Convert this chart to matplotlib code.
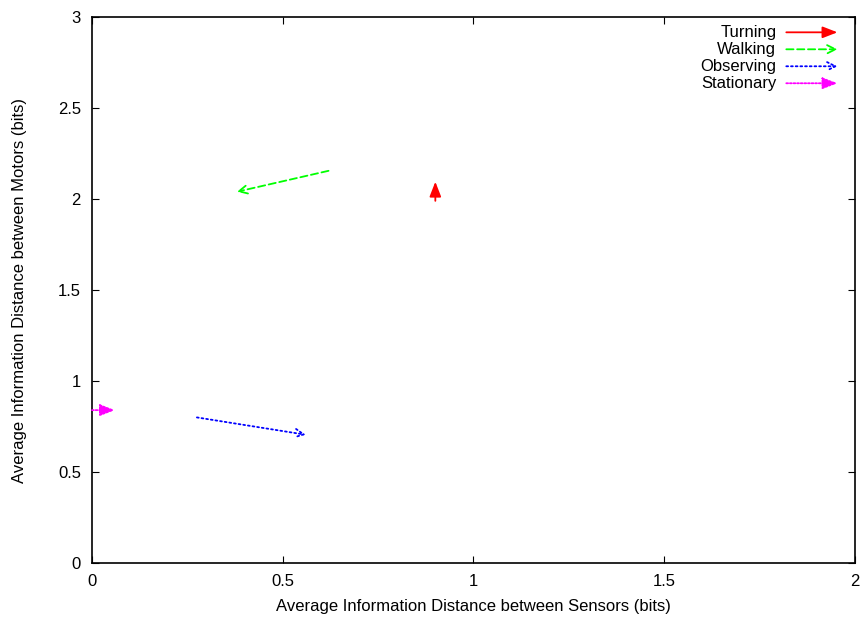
import matplotlib
matplotlib.use("Agg")
import matplotlib.pyplot as plt

plt.rcParams['font.family'] = ['Liberation Sans', 'DejaVu Sans']

# arrow data: start (x0, y0) -> end (x1, y1)
names = ["Turning", "Walking", "Observing", "Stationary"]
x0 = [0.90, 0.62, 0.275, 0.0]
y0 = [1.99, 2.155, 0.80, 0.84]
x1 = [0.90, 0.38, 0.56, 0.06]
y1 = [2.095, 2.04, 0.705, 0.84]
colors = ["#ff0000", "#00ff00", "#0000ff", "#ff00ff"]
styles = ["-", (0, (4, 2)), (0, (1, 1.6)), (0, (1, 1))]
heads = ["-|>,head_length=0.9,head_width=0.35",
         "->,head_length=0.6,head_width=0.3",
         "->,head_length=0.6,head_width=0.3",
         "-|>,head_length=0.9,head_width=0.35"]

fig = plt.figure(figsize=(8.63, 6.17), dpi=100)
ax = fig.add_axes([0.1066, 0.0875, 0.8841, 0.8849])

for i in range(len(names)):
    ax.annotate("", xy=(x1[i], y1[i]), xytext=(x0[i], y0[i]),
                arrowprops=dict(arrowstyle=heads[i], color=colors[i], lw=1.3,
                                linestyle=styles[i], shrinkA=0, shrinkB=0),
                annotation_clip=False)
    # legend entry
    ly = 0.972 - i * 0.0311
    ax.text(0.897, ly, names[i], transform=ax.transAxes, ha="right", va="center", fontsize=12)
    ax.annotate("", xy=(0.977, ly), xytext=(0.910, ly), xycoords="axes fraction",
                textcoords="axes fraction",
                arrowprops=dict(arrowstyle=heads[i], color=colors[i], lw=1.3,
                                linestyle=styles[i], shrinkA=0, shrinkB=0))

ax.set_xlim(0, 2)
ax.set_ylim(0, 3)
ax.set_xticks([0, 0.5, 1, 1.5, 2])
ax.set_xticklabels(["0", "0.5", "1", "1.5", "2"])
ax.set_yticks([0, 0.5, 1, 1.5, 2, 2.5, 3])
ax.set_yticklabels(["0", "0.5", "1", "1.5", "2", "2.5", "3"])
ax.tick_params(direction="in", top=True, right=True, labelsize=12, length=5, width=0.8, pad=8)
ax.set_xlabel("Average Information Distance between Sensors (bits)", fontsize=12, va="center")
ax.set_ylabel("Average Information Distance between Motors (bits)", fontsize=12, va="center")
ax.xaxis.set_label_coords(0.5, -0.0788)
ax.yaxis.set_label_coords(-0.0955, 0.5)
for s in ax.spines.values():
    s.set_linewidth(1.2)

fig.savefig("out.png", dpi=100)
